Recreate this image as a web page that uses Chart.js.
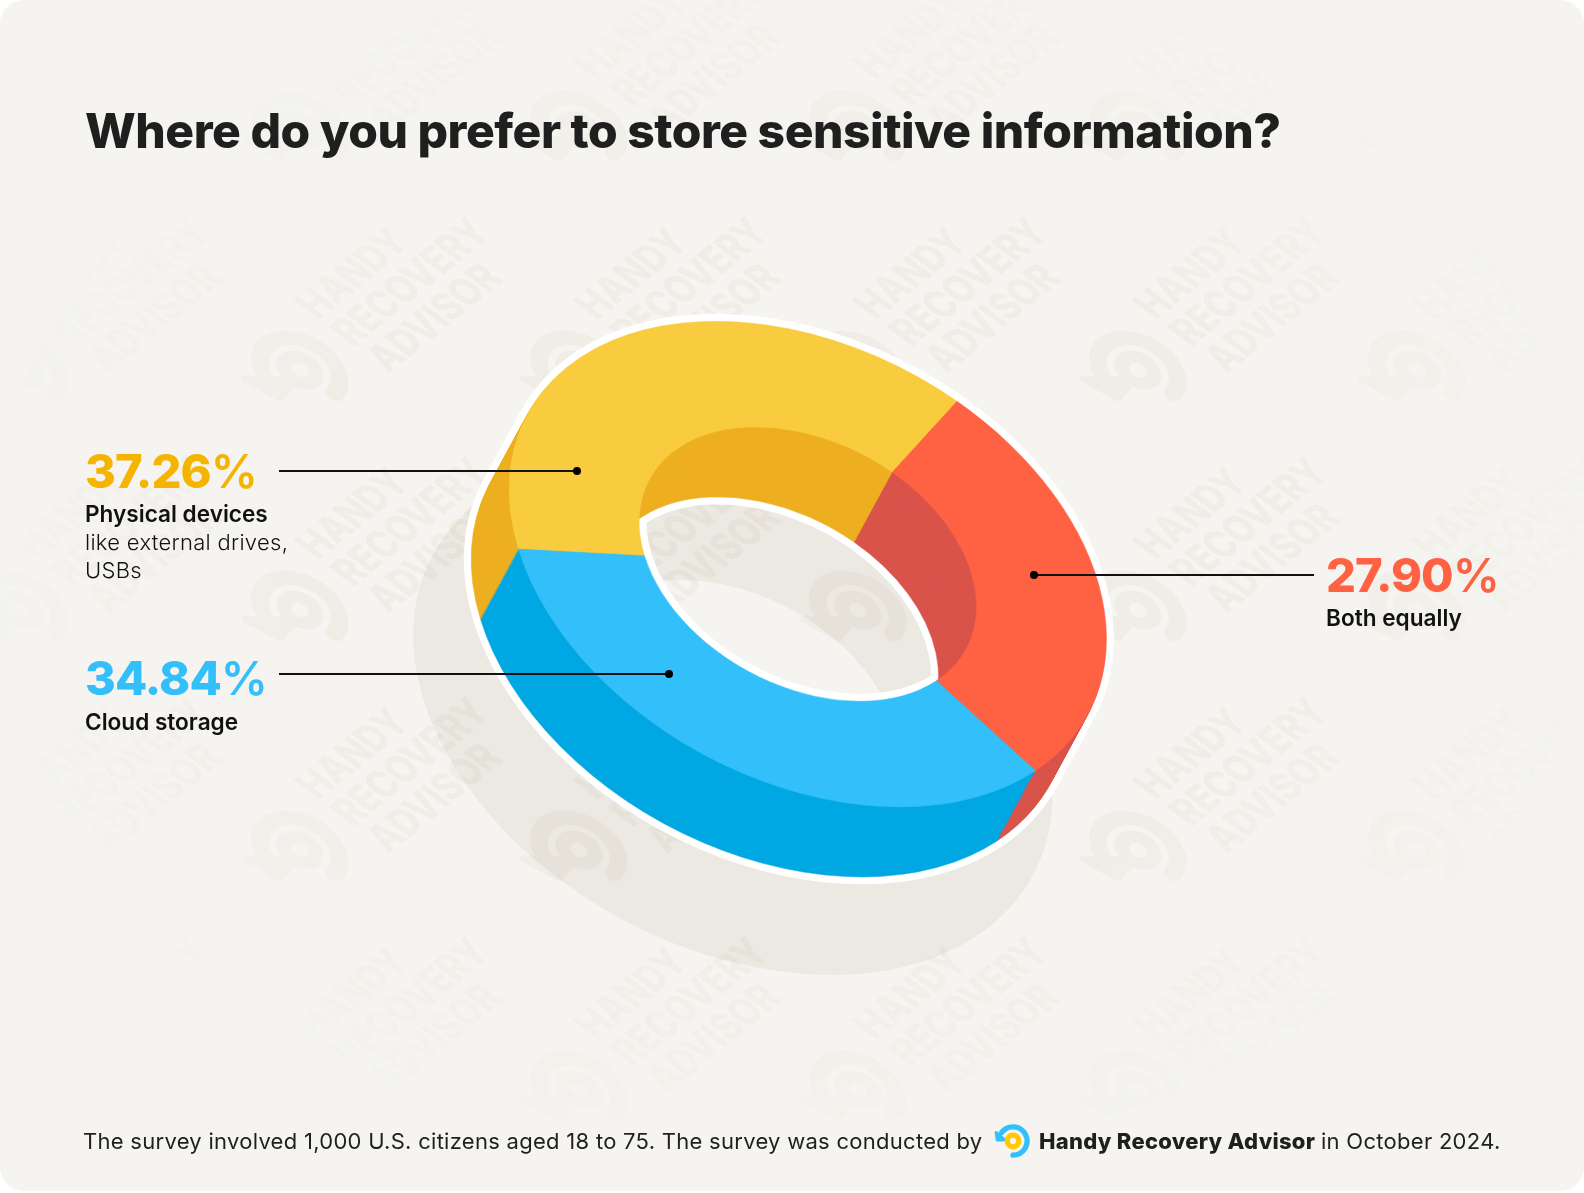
<!DOCTYPE html>
<html>
<head>
<meta charset="utf-8">
<title>Where do you prefer to store sensitive information?</title>
<script src="https://cdn.jsdelivr.net/npm/chart.js@4"></script>
<style>
    html, body { margin: 0; padding: 0; background: #fff; }
    body { width: 1584px; height: 1193px; overflow: hidden; font-family: Inter, sans-serif; color: #1f1f1f; }
    #card { position: absolute; left: 0; top: 0; width: 1584px; height: 1191px; background: #f5f4f0; border-radius: 24px; overflow: hidden; }
    #card canvas { position: absolute; left: 0; top: 0; }
    #watermark {
        position: absolute; left: 0; top: 0; width: 1584px; height: 1191px;
        -webkit-mask-image: radial-gradient(ellipse 850px 640px at 792px 560px, #000 60%, transparent 100%);
        mask-image: radial-gradient(ellipse 850px 640px at 792px 560px, #000 60%, transparent 100%);
    }
    .abs { position: absolute; white-space: nowrap; }
    h1 { margin: 0; left: 85px; top: 102px; font-size: 48px; line-height: 58px; font-weight: 800; letter-spacing: -0.48px; }
    .pct { left: 85px; font-size: 47px; line-height: 56px; font-weight: 800; letter-spacing: -0.9px; }
    .pct span { font-weight: 600; }
    .name { font-size: 22.6px; line-height: 28px; font-weight: 600; color: #111; }
    .sub { font-size: 22px; line-height: 28px; font-weight: 300; color: #111; letter-spacing: 0.3px; }
    .line { height: 2px; background: #111; }
    .dot { width: 8px; height: 8px; border-radius: 50%; background: #000; }
    .foot { top: 1126px; font-size: 22px; line-height: 30px; font-weight: 400; letter-spacing: 0.28px; }
    .wm { position: absolute; transform-origin: 0 0; transform: matrix(.777, -.629, 1.1, .83, 0, 0); font-size: 32.5px; line-height: 32px; font-weight: 800; color: #f0ede7; white-space: pre; }
    .wmlogo { position: absolute; overflow: visible; }
</style>
</head>
<body>
<div id="card">
    <div id="watermark"></div>
    <canvas id="shadowChart"></canvas>
    <canvas id="ringChart"></canvas>

    <h1 class="abs">Where do you prefer to store sensitive information?</h1>

    <div class="abs line" style="left:279px; top:470px; width:298px"></div>
    <div class="abs dot" style="left:573px; top:467px"></div>
    <div class="abs line" style="left:279px; top:673px; width:390px"></div>
    <div class="abs dot" style="left:665px; top:670px"></div>
    <div class="abs line" style="left:1034px; top:574px; width:280px"></div>
    <div class="abs dot" style="left:1030px; top:571px"></div>

    <div class="abs pct" style="top:443px; color:#f5b400">37.26<span>%</span></div>
    <div class="abs name" style="left:85px; top:500px">Physical devices</div>
    <div class="abs sub" style="left:85px; top:528px">like external drives,</div>
    <div class="abs sub" style="left:85px; top:556px">USBs</div>

    <div class="abs pct" style="top:650px; color:#33bff9">34.84<span>%</span></div>
    <div class="abs name" style="left:85px; top:708px">Cloud storage</div>

    <div class="abs pct" style="left:1326px; top:547px; color:#ff6243">27.90<span>%</span></div>
    <div class="abs name" style="left:1326px; top:604px">Both equally</div>

    <div class="abs foot" style="left:83px">The survey involved 1,000 U.S. citizens aged 18 to 75. The survey was conducted by</div>
    <svg class="abs" style="left:992px; top:1120px" width="42" height="42" viewBox="-20 -20 40 40">
        <path d="M-11 -8 A 13.5 13.5 0 1 1 0 13.5" fill="none" stroke="#33bff9" stroke-width="5" stroke-linecap="round"/>
        <path d="M-16 -8 L-15 -1 L-8 -1 Z" fill="#33bff9" stroke="#33bff9" stroke-width="3" stroke-linejoin="round"/>
        <circle r="5.5" fill="none" stroke="#ffc800" stroke-width="5"/>
    </svg>
    <div class="abs foot" style="left:1039px; font-weight:800; letter-spacing:0.28px">Handy Recovery Advisor</div>
    <div class="abs foot" style="left:1321px">in October 2024.</div>
</div>

<script>
// Dados (% de respostas), na ordem em que a rosca é desenhada
const categorias = ['Both equally', 'Cloud storage', 'Physical devices'];
const valores = [27.90, 34.84, 37.26];
const coresTopo = ['#ff6243', '#33bff9', '#f9cb3e'];
const coresParede = ['#d9534a', '#00a8e3', '#edaf20'];

// Projeção isométrica do círculo unitário para a página
const CENTRO = { x: 807.8, y: 564.1 };
const EIXO_U = { x: 148.9, y: -163.0 };
const EIXO_V = { x: 258.9, y: 180.0 };
const EXTRUSAO = { x: -38, y: 70 };
const PASSOS = 38;
const CONTORNO = 7;

function aplicarProjecao(ctx, arco, centro, escala) {
    const r = arco.outerRadius;
    ctx.translate(centro.x, centro.y);
    ctx.transform(EIXO_U.x * escala / r, EIXO_U.y * escala / r, EIXO_V.x * escala / r, EIXO_V.y * escala / r, 0, 0);
    ctx.translate(-arco.x, -arco.y);
}

function desenharCopia(ctx, arcos, dx, dy, cores) {
    ctx.save();
    ctx.translate(dx, dy);
    aplicarProjecao(ctx, arcos[0], CENTRO, 1);
    arcos.forEach((arco, i) => {
        const original = arco.options;
        arco.options = Object.assign({}, original, { backgroundColor: cores[i], borderColor: cores[i] });
        arco.draw(ctx);
        arco.options = original;
    });
    ctx.restore();
}

// Desenha o contorno branco e as paredes antes da face superior
const pluginExtrusao = {
    id: 'extrusao',
    beforeDatasetsDraw(chart) {
        const ctx = chart.ctx;
        const arcos = chart.getDatasetMeta(0).data;
        const branco = arcos.map(() => '#ffffff');

        for (let d = 0; d < 20; d++) {
            const ang = d / 20 * Math.PI * 2;
            for (let k = 0; k <= PASSOS; k++) {
                desenharCopia(ctx, arcos,
                    k / PASSOS * EXTRUSAO.x + Math.cos(ang) * CONTORNO,
                    k / PASSOS * EXTRUSAO.y + Math.sin(ang) * CONTORNO, branco);
            }
        }
        for (let k = PASSOS; k > 0; k--) {
            desenharCopia(ctx, arcos, k / PASSOS * EXTRUSAO.x, k / PASSOS * EXTRUSAO.y, coresParede);
        }

        ctx.save();
        aplicarProjecao(ctx, arcos[0], CENTRO, 1);
    },
    afterDatasetsDraw(chart) {
        chart.ctx.restore();
    }
};

// Sombra: um anel único, um pouco maior e deslocado para baixo
const pluginSombra = {
    id: 'sombra',
    beforeDatasetsDraw(chart) {
        const arco = chart.getDatasetMeta(0).data[0];
        chart.ctx.save();
        aplicarProjecao(chart.ctx, arco, { x: CENTRO.x - 75, y: CENTRO.y + 151 }, 1.07);
    },
    afterDatasetsDraw(chart) {
        chart.ctx.restore();
    }
};

const opcoesBase = {
    responsive: false,
    animation: false,
    events: [],
    rotation: 90,
    plugins: { legend: { display: false }, tooltip: { enabled: false } }
};

function criarCanvas(id) {
    const canvas = document.getElementById(id);
    canvas.width = 1584;
    canvas.height = 1191;
    return canvas;
}

new Chart(criarCanvas('shadowChart'), {
    type: 'doughnut',
    data: {
        labels: ['Sombra'],
        datasets: [{
            data: [valores[0] + valores[1] + valores[2]],
            backgroundColor: 'rgba(145, 134, 100, 0.1)',
            borderWidth: 0,
            clip: false
        }]
    },
    options: Object.assign({}, opcoesBase, { cutout: '52%' }),
    plugins: [pluginSombra]
});

new Chart(criarCanvas('ringChart'), {
    type: 'doughnut',
    data: {
        labels: categorias,
        datasets: [{
            data: valores,
            backgroundColor: coresTopo,
            borderColor: coresTopo,
            borderWidth: 1,
            clip: false
        }]
    },
    options: Object.assign({}, opcoesBase, { cutout: '56.5%' }),
    plugins: [pluginExtrusao]
});

// Marca d'água de fundo
const marca = document.getElementById('watermark');
for (let j = -1; j <= 3; j++) {
    for (let i = -1; i <= 4; i++) {
        const x = 316.7 + 279.3 * i;
        const y = 320 + 240 * j;
        const texto = document.createElement('div');
        texto.className = 'wm';
        texto.style.left = x + 'px';
        texto.style.top = y + 'px';
        texto.innerHTML = '<span style="position:absolute;left:0;top:-26px">HANDY</span>' +
            '<span style="position:absolute;left:0;top:6px">RECOVERY</span>' +
            '<span style="position:absolute;left:0;top:38px">ADVISOR</span>';
        marca.appendChild(texto);

        marca.insertAdjacentHTML('beforeend',
            `<svg class="wmlogo" style="left:${x - 17}px; top:${y + 50}px" width="1" height="1" viewBox="0 0 1 1">
                <g transform="matrix(1.47 -1.61 2.56 1.78 0 0)" fill="none" stroke="#f0ede7">
                    <path d="M-11 -8 A 13.5 13.5 0 1 1 0 13.5" stroke-width="6" stroke-linecap="round"/>
                    <path d="M-18 -11 L-16 1 L-5 1 Z" fill="#f0ede7" stroke-width="3" stroke-linejoin="round"/>
                    <circle r="5.5" stroke-width="5"/>
                </g>
            </svg>`);
    }
}
</script>
</body>
</html>
